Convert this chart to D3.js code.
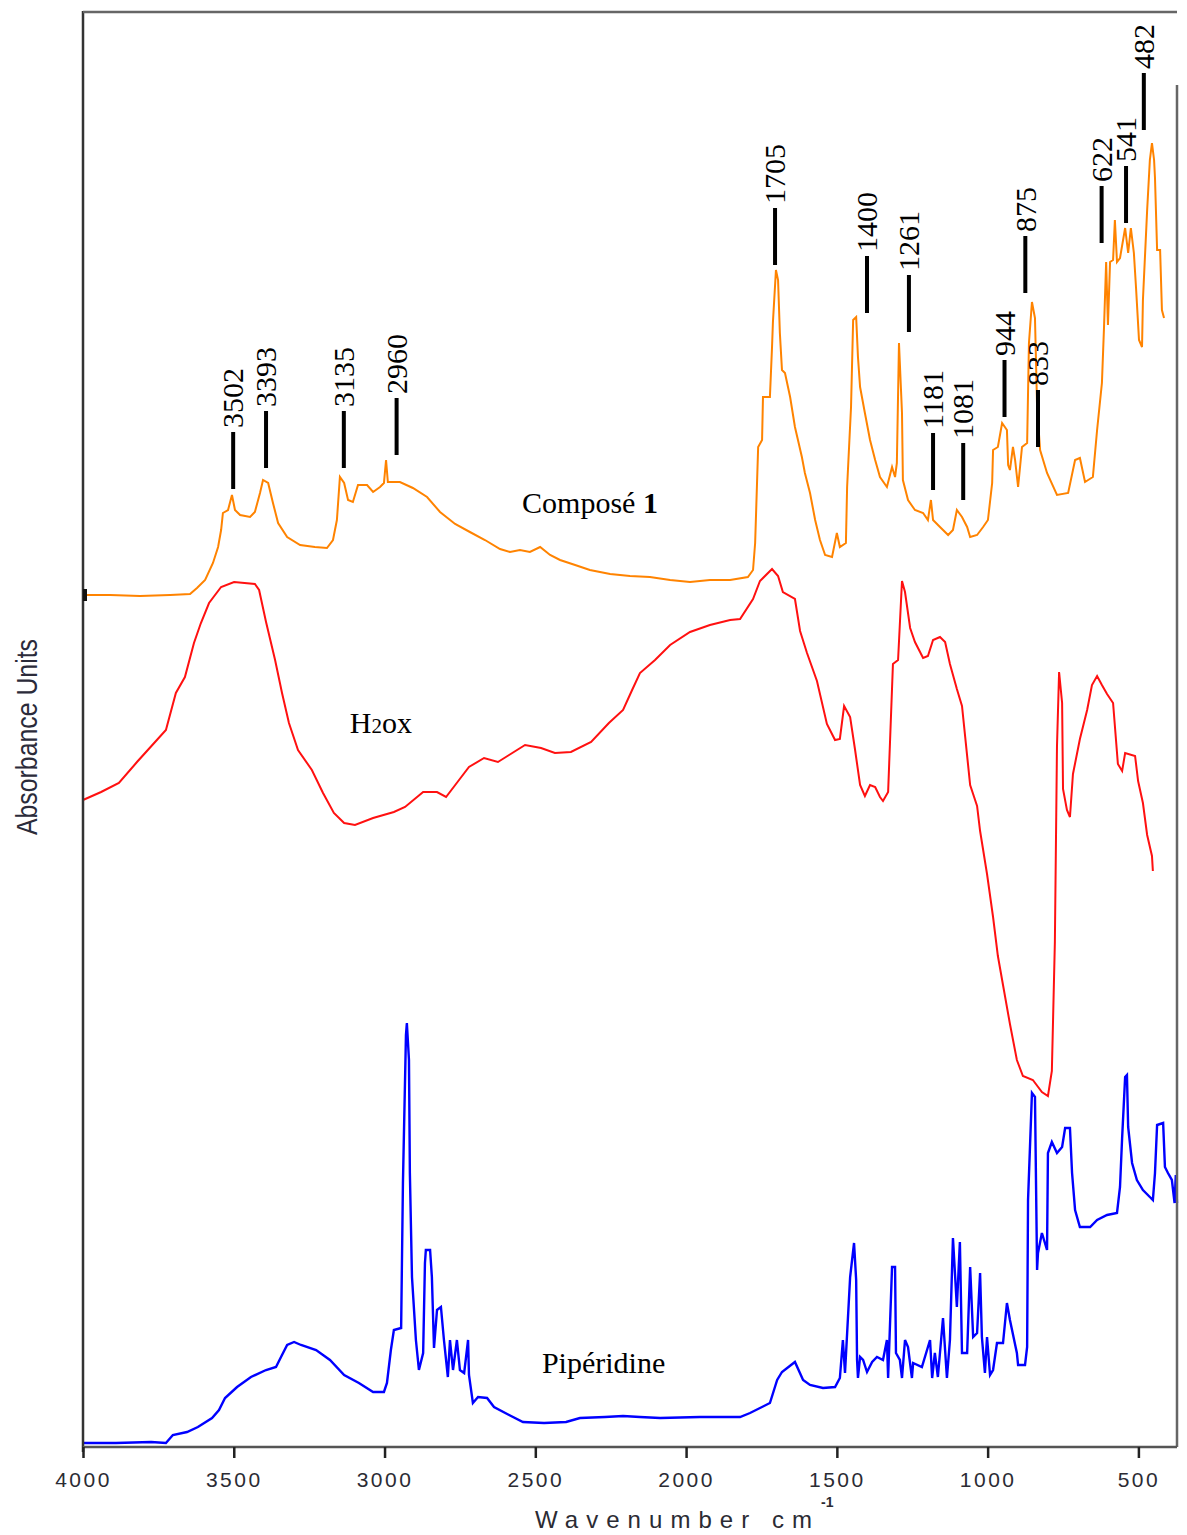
<!DOCTYPE html>
<html>
<head>
<meta charset="utf-8">
<script src="https://cdn.jsdelivr.net/npm/d3@7"></script>
<style>
  html, body { margin: 0; padding: 0; background: #fff; }
  svg { display: block; }
</style>
</head>
<body>
<svg id="chart" width="1187" height="1535"></svg>
<script>
// Wavenumber axis ticks (cm-1)
const wavenumberTicks = [4000, 3500, 3000, 2500, 2000, 1500, 1000, 500];

// Spectra: [wavenumber cm-1, absorbance (offset, arbitrary units)]
const compose1 = [
  [4000,.852],[3910,.852],[3811,.851],[3711,.852],[3645,.853],[3622,.859],[3595,.867],[3569,.884],[3552,.900],[3542,.917],
  [3536,.934],[3519,.937],[3506,.952],[3496,.937],[3479,.932],[3446,.930],[3430,.935],[3413,.954],[3403,.967],[3386,.964],
  [3370,.944],[3353,.924],[3323,.910],[3280,.902],[3231,.900],[3191,.899],[3171,.907],[3158,.927],[3148,.970],[3134,.964],
  [3121,.947],[3105,.945],[3088,.962],[3058,.962],[3038,.955],[3015,.960],[3002,.964],[2995,.987],[2989,.965],[2949,.965],
  [2906,.959],[2859,.950],[2816,.935],[2766,.923],[2717,.915],[2667,.907],[2617,.898],[2584,.895],[2551,.897],[2518,.895],
  [2484,.900],[2451,.892],[2418,.887],[2368,.882],[2319,.877],[2252,.873],[2186,.871],[2120,.870],[2053,.867],[1987,.865],
  [1921,.867],[1854,.867],[1795,.870],[1778,.877],[1771,.904],[1761,1.000],[1748,1.007],[1745,1.050],[1722,1.050],[1715,1.100],
  [1712,1.125],[1702,1.177],[1695,1.167],[1689,1.114],[1682,1.077],[1672,1.074],[1655,1.050],[1639,1.020],[1629,1.007],[1616,.990],
  [1606,.974],[1589,.954],[1572,.927],[1556,.907],[1539,.892],[1516,.890],[1500,.914],[1490,.900],[1470,.904],[1466,.960],
  [1453,1.040],[1446,1.127],[1436,1.130],[1430,1.090],[1423,1.060],[1407,1.034],[1390,1.007],[1373,.987],[1357,.970],[1334,.960],
  [1317,.980],[1307,.970],[1301,.984],[1294,1.104],[1284,1.034],[1281,.967],[1264,.947],[1241,.937],[1214,.934],[1198,.927],
  [1188,.947],[1181,.927],[1158,.920],[1131,.912],[1115,.917],[1102,.937],[1085,.930],[1068,.920],[1058,.910],[1035,.912],
  [1015,.920],[999,.927],[985,.964],[982,.997],[966,1.000],[952,1.024],[936,1.017],[932,.982],[926,.977],[916,1.000],
  [909,.987],[899,.960],[886,1.000],[869,1.004],[863,1.104],[853,1.145],[843,1.129],[836,1.040],[826,.997],[803,.974],
  [770,.952],[733,.954],[710,.987],[694,.989],[677,.965],[651,.970],[637,1.017],[621,1.064],[614,1.120],[607,1.185],
  [601,1.122],[594,1.185],[584,1.187],[578,1.227],[571,1.185],[561,1.189],[544,1.219],[534,1.194],[525,1.219],[515,1.194],
  [508,1.160],[498,1.107],[488,1.100],[485,1.147],[471,1.237],[462,1.287],[455,1.304],[448,1.287],[445,1.269],[438,1.197],
  [428,1.197],[422,1.137],[415,1.129]
];

const h2ox = [
  [4000,.647],[3940,.655],[3881,.664],[3821,.685],[3755,.707],[3725,.717],[3692,.754],[3662,.770],[3632,.804],[3609,.824],
  [3582,.844],[3542,.860],[3499,.865],[3430,.863],[3416,.857],[3393,.825],[3363,.787],[3340,.754],[3317,.724],[3287,.697],
  [3241,.677],[3204,.654],[3168,.634],[3134,.624],[3098,.622],[3038,.629],[2969,.635],[2932,.640],[2872,.655],[2826,.655],
  [2796,.650],[2753,.667],[2720,.680],[2670,.689],[2624,.685],[2587,.692],[2534,.702],[2481,.699],[2435,.694],[2382,.695],
  [2315,.705],[2256,.724],[2209,.737],[2179,.757],[2153,.774],[2103,.787],[2053,.802],[1987,.815],[1921,.822],[1854,.827],
  [1821,.828],[1778,.848],[1755,.866],[1715,.878],[1695,.871],[1679,.855],[1639,.848],[1622,.816],[1599,.794],[1566,.766],
  [1533,.723],[1506,.707],[1490,.708],[1476,.741],[1456,.730],[1440,.698],[1423,.662],[1407,.651],[1390,.662],[1373,.660],
  [1357,.650],[1347,.646],[1330,.655],[1324,.703],[1314,.783],[1297,.787],[1284,.866],[1274,.855],[1257,.819],[1241,.805],
  [1214,.789],[1198,.791],[1181,.807],[1158,.810],[1141,.805],[1125,.783],[1102,.758],[1085,.741],[1058,.662],[1035,.641],
  [1025,.616],[1002,.573],[982,.530],[966,.491],[949,.462],[926,.423],[903,.387],[883,.371],[850,.367],[820,.355],
  [800,.351],[787,.376],[777,.505],[770,.701],[763,.775],[753,.744],[750,.658],[737,.637],[727,.630],[717,.673],
  [694,.708],[670,.737],[654,.762],[637,.771],[621,.762],[604,.753],[584,.744],[568,.683],[554,.676],[544,.694],
  [511,.691],[501,.666],[485,.644],[471,.612],[455,.591],[452,.576]
];

const piperidine = [
  [4000,.004],[3891,.004],[3774,.005],[3725,.004],[3702,.012],[3655,.015],[3619,.020],[3572,.029],[3549,.037],[3529,.049],
  [3489,.060],[3443,.070],[3393,.077],[3360,.080],[3340,.092],[3323,.102],[3300,.105],[3277,.102],[3227,.097],[3181,.087],
  [3134,.072],[3085,.064],[3038,.055],[3002,.055],[2992,.064],[2979,.097],[2969,.117],[2945,.119],[2939,.264],[2929,.412],
  [2926,.424],[2919,.387],[2916,.274],[2909,.170],[2896,.107],[2886,.077],[2872,.094],[2866,.184],[2863,.197],[2849,.197],
  [2843,.170],[2836,.099],[2826,.137],[2813,.140],[2803,.107],[2790,.070],[2783,.107],[2773,.077],[2760,.107],[2750,.077],
  [2736,.074],[2723,.107],[2720,.072],[2707,.044],[2690,.050],[2660,.049],[2637,.040],[2587,.032],[2541,.025],[2471,.024],
  [2398,.025],[2352,.029],[2269,.030],[2209,.031],[2153,.030],[2086,.029],[1954,.030],[1821,.030],[1788,.034],[1722,.044],
  [1698,.067],[1682,.075],[1639,.085],[1612,.067],[1589,.062],[1546,.059],[1506,.060],[1490,.069],[1480,.107],[1473,.074],
  [1456,.170],[1443,.204],[1436,.167],[1433,.087],[1430,.069],[1423,.090],[1413,.087],[1400,.075],[1383,.085],[1367,.090],
  [1347,.087],[1334,.107],[1330,.069],[1317,.180],[1307,.180],[1304,.094],[1291,.087],[1284,.069],[1274,.107],[1264,.100],
  [1251,.069],[1247,.084],[1218,.080],[1191,.107],[1184,.069],[1175,.094],[1165,.070],[1148,.129],[1135,.069],[1125,.107],
  [1115,.209],[1102,.140],[1092,.205],[1085,.094],[1068,.094],[1058,.180],[1048,.110],[1035,.114],[1025,.174],[1019,.110],
  [1009,.074],[1002,.110],[992,.072],[982,.077],[969,.104],[949,.104],[936,.144],[926,.127],[903,.094],[899,.082],
  [876,.082],[869,.100],[866,.247],[853,.354],[843,.350],[836,.177],[833,.194],[820,.214],[803,.197],[800,.294],
  [787,.305],[770,.294],[753,.300],[743,.319],[727,.319],[720,.274],[710,.237],[694,.220],[660,.220],[637,.227],
  [604,.232],[571,.234],[561,.260],[554,.309],[544,.370],[538,.372],[534,.320],[521,.284],[505,.267],[485,.257],
  [462,.250],[452,.247],[445,.274],[438,.322],[418,.324],[412,.280],[402,.274],[389,.267],[380,.244],[376,.272],[372,.244]
];

// Assigned bands of Composé 1 and the absorbance of each band
const peakLabels  = [3502, 3393, 3135, 2960, 1705, 1400, 1261, 1181, 1081, 944, 875, 833, 622, 541, 482];
const peakHeights = [.952, .973, .973, .986, 1.176, 1.128, 1.109, .951, .941, 1.024, 1.148, .994, 1.198, 1.218, 1.311];

// ---- layout ----
const W = 1187, H = 1535;
const margin = { top: 12, right: 10, bottom: 88, left: 83 };
const svg = d3.select("#chart");

const x = d3.scaleLinear().domain([4000, 372]).range([margin.left, W - margin.right]);
const y = d3.scaleLinear().domain([0, 1.435]).range([H - margin.bottom, margin.top]);

svg.append("rect").attr("width", W).attr("height", H).attr("fill", "#fff");

const line = d3.line().x(d => x(d[0])).y(d => y(d[1]));

const series = [
  { data: piperidine, color: "#0000ff", width: 2.4 },
  { data: h2ox,       color: "#ff1010", width: 2.0 },
  { data: compose1,   color: "#ff8300", width: 2.0 }
];
svg.append("g").selectAll("path").data(series).join("path")
  .attr("d", d => line(d.data))
  .attr("fill", "none")
  .attr("stroke", d => d.color)
  .attr("stroke-width", d => d.width)
  .attr("stroke-linejoin", "miter");

// ---- frame ----
const x0 = x.range()[0], x1 = x.range()[1], yb = y.range()[0], yt = y.range()[1];
const frame = svg.append("g").attr("fill", "none");
frame.append("line").attr("x1", x0).attr("x2", x0).attr("y1", yt - 1).attr("y2", yb + 5)
  .attr("stroke", "#333").attr("stroke-width", 2.5);
frame.append("line").attr("x1", x0).attr("x2", x1).attr("y1", yt).attr("y2", yt)
  .attr("stroke", "#666").attr("stroke-width", 2.5);
frame.append("line").attr("x1", x1).attr("x2", x1).attr("y1", yt + 73).attr("y2", yb)
  .attr("stroke", "#666").attr("stroke-width", 2.5);
// baseline marker for the upper trace
frame.append("rect").attr("x", x0).attr("y", y(compose1[0][1]) - 6).attr("width", 4).attr("height", 12)
  .attr("fill", "#111");

// ---- x axis ----
const xAxis = d3.axisBottom(x).tickValues(wavenumberTicks).tickSize(11).tickPadding(10).tickFormat(d3.format("d"));
const gx = svg.append("g").attr("transform", `translate(0,${yb})`).call(xAxis);
gx.select(".domain").attr("stroke", "#555").attr("stroke-width", 2.5)
  .attr("d", `M${x0},0H${x1}`);
gx.selectAll(".tick line").attr("stroke", "#222").attr("stroke-width", 2.5);
gx.selectAll(".tick text")
  .attr("font-family", "'Liberation Sans', Arial, sans-serif")
  .attr("font-size", 21)
  .attr("letter-spacing", "2.5px")
  .attr("fill", "#2b2b33")
  .attr("dy", "0.9em");

svg.append("text")
  .attr("x", 535).attr("y", 1528)
  .attr("font-family", "'Liberation Sans', Arial, sans-serif")
  .attr("font-size", 24)
  .attr("fill", "#2b2b33")
  .attr("textLength", 277).attr("lengthAdjust", "spacing")
  .text("Wavenumber cm");
svg.append("text")
  .attr("x", 821).attr("y", 1507)
  .attr("font-family", "'Liberation Sans', Arial, sans-serif")
  .attr("font-size", 14).attr("font-weight", "bold")
  .attr("fill", "#2b2b33")
  .text("-1");

// ---- y axis title ----
svg.append("text")
  .attr("transform", `translate(37,${y(0.612)}) rotate(-90)`)
  .attr("font-family", "'Liberation Sans', Arial, sans-serif")
  .attr("font-size", 29)
  .attr("fill", "#2b2b3a")
  .attr("textLength", 196).attr("lengthAdjust", "spacingAndGlyphs")
  .text("Absorbance Units");

// ---- band labels ----
const serif = "'Liberation Serif', 'Times New Roman', serif";
const leaderLen = 57, gapBelow = 6;
const peaks = peakLabels.map((wn, i) => ({ wn, h: peakHeights[i] }));
const pg = svg.append("g").selectAll("g").data(peaks).join("g")
  .attr("transform", d => `translate(${x(d.wn)},${y(d.h) - gapBelow})`);
pg.append("line")
  .attr("y1", 0).attr("y2", -leaderLen)
  .attr("stroke", "#000").attr("stroke-width", 4);
pg.append("text")
  .attr("transform", `translate(0,${-leaderLen - 4}) rotate(-90)`)
  .attr("dy", "0.34em")
  .attr("font-family", serif)
  .attr("font-size", 30)
  .attr("fill", "#000")
  .text(d => d.wn);

// ---- trace names ----
const t1 = svg.append("text")
  .attr("x", x(2544)).attr("y", y(0.934))
  .attr("font-family", serif).attr("font-size", 30).attr("fill", "#000");
t1.append("tspan").text("Composé ");
t1.append("tspan").attr("font-weight", "bold").text("1");

const t2 = svg.append("text")
  .attr("x", x(3115)).attr("y", y(0.714))
  .attr("font-family", serif).attr("font-size", 30).attr("fill", "#000");
t2.append("tspan").text("H");
t2.append("tspan").attr("font-size", 21).text("2");
t2.append("tspan").text("ox");

svg.append("text")
  .attr("x", x(2478)).attr("y", y(0.074))
  .attr("font-family", serif).attr("font-size", 30).attr("fill", "#000")
  .text("Pipéridine");
</script>
</body>
</html>
